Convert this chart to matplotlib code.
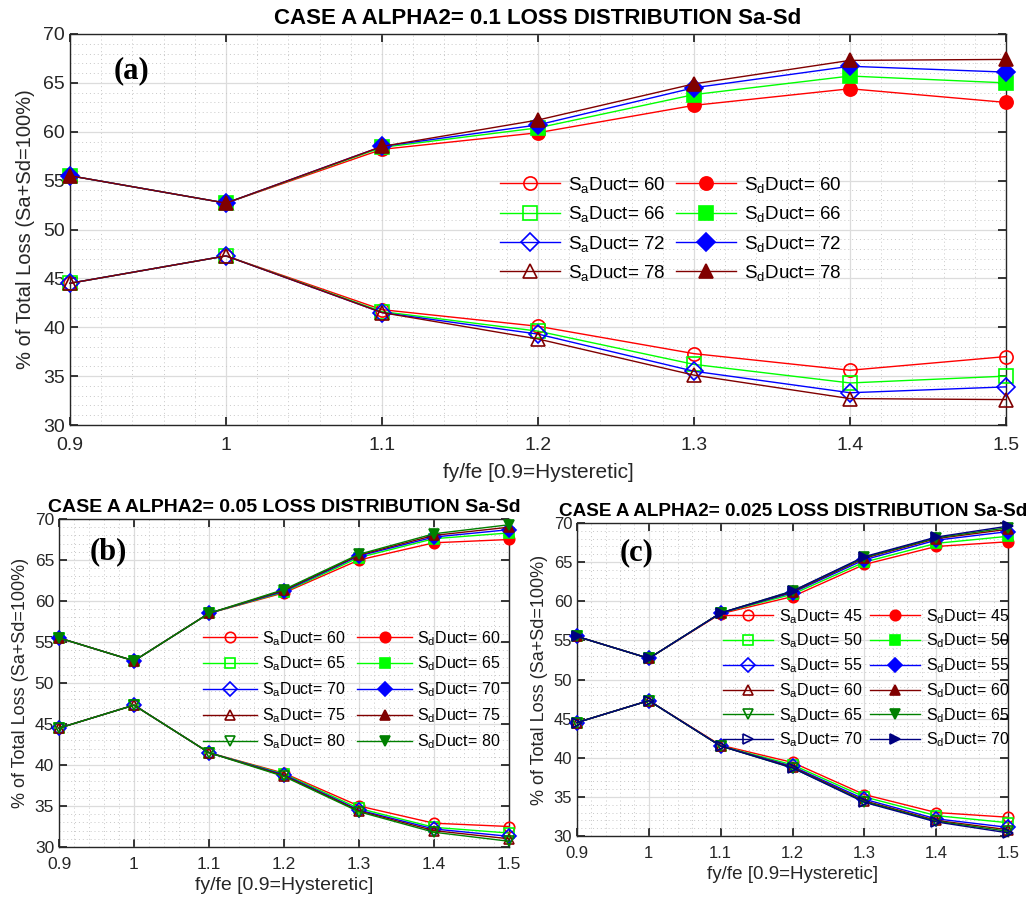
import numpy as np
import matplotlib
matplotlib.use("Agg")
import matplotlib.pyplot as plt
from matplotlib.ticker import MultipleLocator
from matplotlib.legend_handler import HandlerLine2D
from matplotlib.lines import Line2D

plt.rcParams['font.family'] = ['Liberation Sans', 'DejaVu Sans']
plt.rcParams['mathtext.fontset'] = 'custom'
plt.rcParams['mathtext.rm'] = 'Liberation Sans'
plt.rcParams['mathtext.it'] = 'Liberation Sans:italic'
plt.rcParams['mathtext.bf'] = 'Liberation Sans:bold'

# ---------------- data ----------------
fy_fe = [0.9, 1.0, 1.1, 1.2, 1.3, 1.4, 1.5]
x_ticklabels = ['0.9', '1', '1.1', '1.2', '1.3', '1.4', '1.5']

# panel (a) ALPHA2 = 0.1
duct_a = [60, 66, 72, 78]
sa_a = [
    [44.5, 47.3, 41.8, 40.1, 37.3, 35.6, 37.0],
    [44.5, 47.3, 41.6, 39.6, 36.2, 34.3, 35.0],
    [44.5, 47.3, 41.5, 39.3, 35.5, 33.3, 33.9],
    [44.5, 47.3, 41.5, 38.8, 35.1, 32.7, 32.6],
]
sd_a = [
    [55.5, 52.7, 58.2, 59.9, 62.7, 64.4, 63.0],
    [55.5, 52.7, 58.4, 60.4, 63.8, 65.7, 65.0],
    [55.5, 52.7, 58.5, 60.7, 64.5, 66.7, 66.1],
    [55.5, 52.7, 58.5, 61.2, 64.9, 67.3, 67.4],
]

# panel (b) ALPHA2 = 0.05
duct_b = [60, 65, 70, 75, 80]
sa_b = [
    [44.5, 47.3, 41.5, 39.0, 35.0, 32.9, 32.5],
    [44.5, 47.3, 41.5, 38.9, 34.7, 32.4, 31.7],
    [44.5, 47.3, 41.5, 38.8, 34.5, 32.2, 31.3],
    [44.5, 47.3, 41.5, 38.7, 34.4, 32.0, 31.0],
    [44.5, 47.3, 41.5, 38.6, 34.3, 31.8, 30.7],
]
sd_b = [
    [55.5, 52.7, 58.5, 61.0, 65.0, 67.1, 67.5],
    [55.5, 52.7, 58.5, 61.1, 65.3, 67.6, 68.3],
    [55.5, 52.7, 58.5, 61.2, 65.5, 67.8, 68.7],
    [55.5, 52.7, 58.5, 61.3, 65.6, 68.0, 69.0],
    [55.5, 52.7, 58.5, 61.4, 65.7, 68.2, 69.3],
]

# panel (c) ALPHA2 = 0.025
duct_c = [45, 50, 55, 60, 65, 70]
sa_c = [
    [44.5, 47.3, 41.6, 39.4, 35.3, 33.0, 32.4],
    [44.5, 47.3, 41.5, 39.1, 35.0, 32.6, 31.7],
    [44.5, 47.3, 41.5, 38.9, 34.7, 32.2, 31.1],
    [44.5, 47.3, 41.5, 38.8, 34.5, 32.0, 30.8],
    [44.5, 47.3, 41.5, 38.7, 34.4, 31.9, 30.6],
    [44.5, 47.3, 41.5, 38.7, 34.3, 31.8, 30.4],
]
sd_c = [
    [55.5, 52.7, 58.4, 60.6, 64.7, 67.0, 67.6],
    [55.5, 52.7, 58.5, 60.9, 65.0, 67.4, 68.3],
    [55.5, 52.7, 58.5, 61.1, 65.3, 67.8, 68.9],
    [55.5, 52.7, 58.5, 61.2, 65.5, 68.0, 69.2],
    [55.5, 52.7, 58.5, 61.3, 65.6, 68.1, 69.4],
    [55.5, 52.7, 58.5, 61.3, 65.7, 68.2, 69.6],
]

colors = ['#ff0000', '#00ff00', '#0000ff', '#800000', '#008000', '#000080']
markers = ['o', 's', 'D', '^', 'v', '>']

titles = ['CASE A ALPHA2= 0.1 LOSS DISTRIBUTION Sa-Sd',
          'CASE A ALPHA2= 0.05 LOSS DISTRIBUTION Sa-Sd',
          'CASE A ALPHA2= 0.025 LOSS DISTRIBUTION Sa-Sd']
xlabel = 'fy/fe [0.9=Hysteretic]'
ylabel = '% of Total Loss (Sa+Sd=100%)'

W, H = 1029, 898
fig = plt.figure(figsize=(W / 100, H / 100), dpi=100)
TXT = '#262626'


class OffCenterHandler(HandlerLine2D):
    """MATLAB-like legend entry: marker sits near the left quarter of the line."""
    def get_xdata(self, legend, xdescent, ydescent, width, height, fontsize):
        xdata = np.array([-xdescent, -xdescent + width])
        xmark = np.array([-xdescent + 0.23 * width])
        return xdata, xmark


def px_axes(left, top, right, bottom):
    return fig.add_axes([left / W, (H - bottom) / H, (right - left) / W, (bottom - top) / H])


def style(ax, fs, xpad):
    ax.set_xlim(0.9, 1.5)
    ax.set_ylim(30, 70)
    ax.set_xticks(fy_fe)
    ax.set_xticklabels(x_ticklabels)
    ax.set_yticks([30, 35, 40, 45, 50, 55, 60, 65, 70])
    ax.xaxis.set_minor_locator(MultipleLocator(0.02))
    ax.yaxis.set_minor_locator(MultipleLocator(1))
    ax.grid(True, which='major', color='#dcdcdc', linewidth=0.9)
    ax.grid(True, which='minor', color='#c8c8c8', linestyle=(0, (1, 3)), linewidth=0.7)
    ax.set_axisbelow(True)
    ax.tick_params(which='major', direction='in', top=True, right=True, length=6,
                   width=1.3, labelsize=fs, colors=TXT)
    ax.tick_params(axis='x', which='major', pad=xpad)
    ax.tick_params(which='minor', length=0)
    for s in ax.spines.values():
        s.set_color(TXT)
        s.set_linewidth(1.0)


def draw(ax, ducts, sa, sd, ms, fs, xpad, legfs, label, label_xy, leg_anchor, leg_kw):
    handles_a, handles_d = [], []
    for i, d in enumerate(ducts):
        ha, = ax.plot(fy_fe, sa[i], color=colors[i], marker=markers[i], markersize=ms,
                      markerfacecolor='none', markeredgewidth=1.2, linewidth=1.0,
                      label=r'S$_\mathrm{a}$Duct= %d' % d, clip_on=False, zorder=3)
        hd, = ax.plot(fy_fe, sd[i], color=colors[i], marker=markers[i], markersize=ms,
                      markerfacecolor=colors[i], markeredgewidth=1.2, linewidth=1.0,
                      label=r'S$_\mathrm{d}$Duct= %d' % d, clip_on=False, zorder=3)
        handles_a.append(ha)
        handles_d.append(hd)
    style(ax, fs, xpad)
    hs = handles_a + handles_d
    ax.legend(hs, [h.get_label() for h in hs],
              ncol=2, frameon=False, loc='upper left', bbox_to_anchor=leg_anchor,
              borderaxespad=0, borderpad=0, fontsize=legfs,
              handler_map={Line2D: OffCenterHandler()}, **leg_kw)
    ax.text(label_xy[0], label_xy[1], label, transform=ax.transAxes,
            fontfamily='Liberation Serif', fontweight='bold', fontsize=22,
            ha='left', va='center')


# panel (a)
ax_a = px_axes(70, 34, 1006, 425)
draw(ax_a, duct_a, sa_a, sd_a, ms=9.5, fs=14, xpad=9, legfs=13.5,
     label='(a)', label_xy=(0.047, 0.905), leg_anchor=(0.459, 0.64),
     leg_kw=dict(handlelength=3.2, columnspacing=0.6, labelspacing=0.5, handletextpad=0.43))
ax_a.set_title(titles[0], fontsize=16, fontweight='bold', pad=7)
ax_a.set_xlabel(xlabel, fontsize=15, color=TXT, labelpad=6)
ax_a.set_ylabel(ylabel, fontsize=14.5, color=TXT, labelpad=6)

# panel (b)
ax_b = px_axes(59, 519, 509, 847)
draw(ax_b, duct_b, sa_b, sd_b, ms=7.5, fs=12.5, xpad=7, legfs=11.5,
     label='(b)', label_xy=(0.067, 0.9), leg_anchor=(0.32, 0.665),
     leg_kw=dict(handlelength=3.4, columnspacing=0.75, labelspacing=0.45, handletextpad=0.3))
ax_b.set_title(titles[1], fontsize=14, fontweight='bold', pad=5)
ax_b.set_xlabel(xlabel, fontsize=14, color=TXT, labelpad=4)
ax_b.set_ylabel(ylabel, fontsize=13, color=TXT, labelpad=4)

# panel (c)
ax_c = px_axes(577, 523, 1008, 836)
draw(ax_c, duct_c, sa_c, sd_c, ms=7.5, fs=12, xpad=7, legfs=11.5,
     label='(c)', label_xy=(0.1, 0.904), leg_anchor=(0.339, 0.732),
     leg_kw=dict(handlelength=3.1, columnspacing=0.5, labelspacing=0.38, handletextpad=0.4))
ax_c.set_title(titles[2], fontsize=13.6, fontweight='bold', pad=5, loc='left', x=-0.042)
ax_c.set_xlabel(xlabel, fontsize=13.5, color=TXT, labelpad=4)
ax_c.set_ylabel(ylabel, fontsize=13, color=TXT, labelpad=4)

fig.savefig('out.png', dpi=100)
